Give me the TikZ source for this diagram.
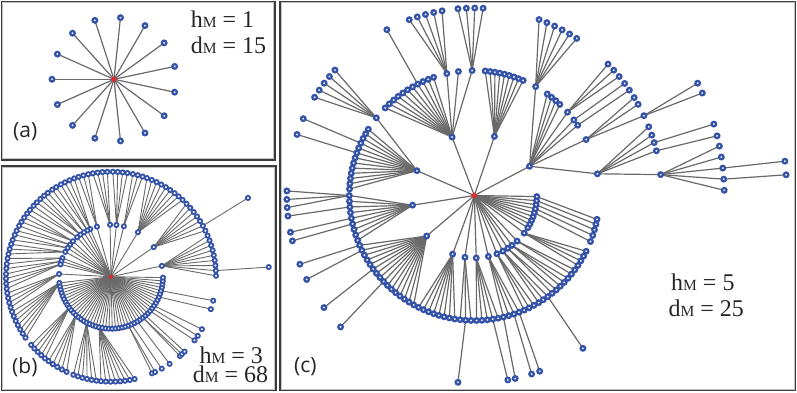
\documentclass[tikz,border=0pt]{standalone}
\usepackage{fontspec}
\setmainfont{Liberation Serif}
\newfontfamily\labfont{Open Sans}
\definecolor{nblue}{RGB}{52,82,168}
\definecolor{nred}{RGB}{232,36,40}
\definecolor{egray}{RGB}{105,105,105}
\definecolor{frm}{RGB}{60,60,60}
\definecolor{frmlight}{RGB}{195,195,195}
\tikzset{
 leafnode/.style={circle, draw=nblue, line width=2.3pt, fill=white, minimum size=4.5pt, inner sep=0pt},
 rootnode/.style={circle, draw=nred, line width=1.8pt, fill=white, minimum size=3.6pt, inner sep=0pt},
 conn/.style={draw=egray, line width=1.2pt},
 panelframe/.style={draw=frm, line width=1.5pt},
 panelshade/.style={draw=frmlight, line width=0.9pt},
 lbl/.style={inner sep=0pt, font=\fontsize{24}{24}\selectfont, text=black!85},
 plab/.style={inner sep=0pt, font=\labfont\fontsize{21}{21}\selectfont, text=black!85},
}
\newif\ifnodepass
\newcommand\treeroot[1]{%
  \ifnodepass\node[rootnode] (#1) at (\cx,\cy) {};%
  \else\coordinate (#1) at (\cx,\cy);\fi}
% node #1 with parent #2 at radius #3, angle #4 around (\cx,\cy)
\newcommand\treenode[4]{%
  \ifnodepass\node[leafnode] (#1) at ({\cx+(#3)*cos(#4)},{\cy-(#3)*sin(#4)}) {};%
  \else\coordinate (#1) at ({\cx+(#3)*cos(#4)},{\cy-(#3)*sin(#4)});%
  \draw[conn] (#2) -- (#1);\fi}
% #5 children of #1 at radius #2, angles from #3 to #4
\newcommand\treefan[5]{%
  \foreach \k in {1,...,#5}{%
    \pgfmathsetmacro\angt{#3+(#4-#3)*(\k-1)/max(#5-1,1)}%
    \treenode{#1-\k}{#1}{#2}{\angt}}}
\newcommand\hdm[2]{#1{\fontsize{15.5}{15.5}\selectfont M} = #2}
% two stacked lines, first baseline at the node's base
\newcommand\twolines[3]{\vtop{\baselineskip=#1\hbox{#2}\hbox{#3}}}

\newcommand\panelA{%
\def\cx{114}\def\cy{79.3}%
\treeroot{ra}%
\treefan{ra}{62}{180}{-156}{15}}

\newcommand\panelB{%
\begin{scope}[leafnode/.style={circle, draw=nblue, line width=1.8pt, fill=white, minimum size=4.2pt, inner sep=0pt},
  conn/.style={draw=egray, line width=0.9pt},
  rootnode/.style={circle, draw=nred, line width=1.4pt, fill=white, minimum size=2.8pt, inner sep=0pt}]
\def\cx{111}\def\cy{276.7}%
\treeroot{rb}
\treenode{bt1}{rb}{52}{12}
\treenode{bt2}{rb}{52}{34.7}
\treenode{bt3}{rb}{52}{58.8}
\treenode{bt4}{rb}{52}{75.7}
\treenode{bt5}{rb}{52}{84}
\treenode{bt6}{rb}{52}{91}
\treenode{bl1}{rb}{52}{105.7}
\treenode{bl2}{rb}{52}{113.5}
\treenode{bl3}{rb}{52}{117}
\treenode{bl4}{rb}{52}{121.3}
\treenode{bl5}{rb}{52}{126}
\treenode{bl6}{rb}{52}{130.6}
\treenode{bl7}{rb}{52}{137}
\treenode{bl8}{rb}{52}{142}
\treenode{bl9}{rb}{52}{146.4}
\treenode{bl10}{rb}{52}{151.5}
\treenode{bl11}{rb}{52}{159}
\treenode{bl12}{rb}{52}{162.7}
\treenode{bl13}{rb}{52}{166.3}
\treenode{bl14}{rb}{52}{177}
\treenode{bl15}{rb}{52}{186.9}
\treefan{rb}{52}{191}{359}{47}
\treefan{bt1}{105}{0.5}{23}{9}
\treefan{bt2}{105}{26}{44}{7}
\treefan{bt3}{105}{47}{70}{9}
\treefan{bt4}{105}{72.5}{78}{3}
\treefan{bt5}{105}{81}{89}{4}
\treefan{bt6}{105}{92}{100}{4}
\treefan{bl1}{105}{102.5}{108}{3}
\treefan{bl2}{105}{110.5}{116}{3}
\treefan{bl3}{105}{118.5}{121.5}{2}
\treefan{bl4}{105}{124}{127}{2}
\treefan{bl5}{105}{129.5}{135}{3}
\treefan{bl6}{105}{137.5}{140.5}{2}
\treefan{bl7}{105}{143}{148.5}{3}
\treefan{bl8}{105}{151}{154}{2}
\treefan{bl9}{105}{156.5}{159.5}{2}
\treefan{bl10}{105}{162}{167.5}{3}
\treefan{bl11}{105}{170}{173}{2}
\treefan{bl12}{105}{175.5}{178.5}{2}
\treefan{bl13}{105}{181}{186.5}{3}
\treefan{bl14}{105}{189}{197}{4}
\treefan{bl15}{105}{199.5}{215.5}{7}
\treefan{rb-8}{105}{220.5}{231}{5}
\treefan{rb-11}{105}{233.5}{245}{5}
\treefan{rb-15}{105}{249}{262}{6}
\treefan{rb-19}{105}{264.5}{283}{8}
\treenode{bs1}{rb-28}{105}{293}
\treenode{bs2}{rb-28}{105}{294.8}
\treenode{bs3}{rb-29}{105}{298.9}
\treenode{bs4}{rb-31}{105}{303.9}
\treenode{bs5}{rb-33}{105}{311}
\treenode{bs6}{rb-33}{105}{312.5}
\treenode{bs7}{rb-34}{105}{314.5}
\treenode{bs8}{rb-36}{105}{322.7}
\treenode{bs9}{rb-37}{105}{325.7}
\treenode{bs10}{rb-38}{105}{330}
\treenode{bs11}{rb-41}{105}{342}
\treenode{bs12}{rb-43}{105}{346.8}
\treenode{bx1}{bt2-2}{158}{29.9}
\treenode{bx2}{bt1-2}{158}{3.5}
\end{scope}}

\newcommand\panelC{%
\def\cx{474.3}\def\cy{195.5}%
\treeroot{rc}
\treenode{c1}{rc}{62.5}{156.6}
\treenode{c2}{rc}{62.5}{188.9}
\treenode{c3}{rc}{62.5}{220.4}
\treenode{c4}{rc}{62.5}{110.8}
\treenode{c5}{rc}{62.5}{71.2}
\treenode{c6}{rc}{62.5}{27.9}
\treenode{cb1}{rc}{62.5}{-110.3}
\treenode{cb2}{rc}{62.5}{-98.6}
\treenode{cb3}{rc}{62.5}{-88.2}
\treenode{cb4}{rc}{62.5}{-77}
\treenode{cb5}{rc}{62.5}{-68.8}
\treenode{cb6}{rc}{62.5}{-62.8}
\treenode{cb7}{rc}{62.5}{-57.7}
\treenode{cb8}{rc}{62.5}{-52.9}
\treenode{cb9}{rc}{62.5}{-46.8}
\treenode{cb10}{rc}{62.5}{-37}
\treefan{rc}{62.5}{-31}{-1}{9}
\treenode{h1b}{c1}{125}{141.6}
\treefan{c1}{125}{148}{177}{13}
\treefan{c2}{125}{180}{201}{9}
\treefan{c3}{125}{203.5}{241}{16}
\treefan{c4}{125}{135.5}{109}{11}
\treenode{c4a}{c4}{125}{102.7}
\treenode{c4b}{c4}{125}{97.3}
\treenode{c4c}{c4}{125}{91}
\treefan{c5}{125}{85}{67}{9}
\treenode{c6a}{c6}{125}{60.6}
\treefan{c6}{125}{54.3}{46.8}{4}
\treenode{c6b}{c6}{125}{41.8}
\treenode{c6c}{c6}{125}{37.2}
\treenode{c6d}{c6}{125}{34.2}
\treenode{c6e}{c6}{125}{26.6}
\treenode{c6f}{c6}{125}{10}
\treefan{cb1}{125}{243.5}{261}{8}
\treefan{cb2}{125}{263.5}{268.5}{3}
\treefan{cb3}{125}{271}{281}{5}
\treefan{cb4}{125}{283.5}{291}{4}
\treefan{cb5}{125}{293.5}{298.5}{3}
\treefan{cb6}{125}{301}{306}{3}
\treefan{cb7}{125}{308.5}{311}{2}
\treefan{cb8}{125}{313.5}{318.5}{3}
\treefan{cb9}{125}{321}{323.5}{2}
\treefan{cb10}{125}{326}{333.5}{4}
\treenode{cr1}{rc-9}{125}{-11}
\treenode{cr2}{rc-8}{125}{-13.3}
\treenode{cr3}{rc-7}{125}{-15.9}
\treenode{cr4}{rc-6}{125}{-18.6}
\treenode{cr5}{rc-5}{125}{-21.6}
\treenode{cl1}{c1-4}{187.5}{155.8}
\treenode{cl2}{c1-6}{187.5}{161}
\treefan{h1b}{187.5}{138}{148.4}{5}
\treenode{cl3}{c2-1}{187.5}{178.6}
\treenode{cl4}{c2-1}{187.5}{181.2}
\treenode{cl5}{c2-1}{187.5}{183.7}
\treenode{cl6}{c2-3}{187.5}{186.3}
\treenode{cl7}{c2-5}{187.5}{191.3}
\treenode{cl8}{c2-6}{187.5}{194}
\treenode{cl9}{c3-1}{187.5}{201.5}
\treenode{cl10}{c3-2}{187.5}{206.6}
\treenode{cl11}{c3-6}{187.5}{216.7}
\treenode{cl12}{c3-9}{187.5}{224.5}
\treenode{c4x}{c4-8}{187.5}{117.8}
\treefan{c4a}{187.5}{110.3}{99.9}{5}
\treefan{c4c}{187.5}{95}{87.3}{4}
\treefan{c6a}{187.5}{69.8}{56.9}{6}
\treefan{c6b}{187.5}{44.5}{39.4}{3}
\treenode{c6c1}{c6c}{187.5}{36.7}
\treenode{c6d1}{c6d}{187.5}{34.2}
\treenode{c6e1}{c6e}{187.5}{31.5}
\treenode{c6e2}{c6e}{187.5}{29.1}
\treenode{c6e3}{c6e}{187.5}{25.2}
\treenode{c6f1}{c6f}{187.5}{21.5}
\treenode{c6f2}{c6f}{187.5}{18.8}
\treenode{c6f3}{c6f}{187.5}{16.4}
\treenode{c6f4}{c6f}{187.5}{13.8}
\treenode{c6f5}{c6f}{187.5}{6.4}
\treenode{cf1}{cb2-2}{187.5}{265}
\treenode{cf2}{cb3-4}{187.5}{280.3}
\treenode{cf3}{cb4-1}{187.5}{282.6}
\treenode{cf4}{cb4-3}{187.5}{287.8}
\treenode{cf5}{cb4-4}{187.5}{290.4}
\treenode{cf6}{cb6-3}{187.5}{305.4}
\treenode{c6e3a}{c6e3}{250}{26.7}
\treenode{c6e3b}{c6e3}{250}{24.2}
\treenode{c6f3a}{c6f3}{250}{16.6}
\treenode{c6f4a}{c6f4}{250}{13.8}
\treefan{c6f5}{250}{11.4}{1.2}{5}
\treenode{c5a}{c6f5-3}{312.5}{6.3}
\treenode{c5b}{c6f5-4}{312.5}{3.8}}

\begin{document}
\begin{tikzpicture}[x=1pt,y=-1pt]
\useasboundingbox (0,0) rectangle (797,392);
\fill[white] (0,0) rectangle (797,392);
% pass 1: connectors, pass 2: nodes on top
\global\nodepassfalse
\panelA\panelB\panelC
\global\nodepasstrue
\panelA\panelB\panelC

\node[lbl, anchor=base west] (la) at (190.7,27.3)
  {\twolines{26pt}{\hdm{h}{1}}{\hdm{d}{15}}};
\node[plab, anchor=base west] (pa) at (13,137.5) {(a)};
\node[lbl, anchor=base west] (lb) at (192.7,363.3)
  {\twolines{19.4pt}{\hspace{6.6pt}\hdm{h}{3}}{\hdm{d}{68}}};
\node[plab, anchor=base west] (pb) at (12,373.5) {(b)};
\node[lbl, anchor=base west] (lc) at (668.3,290)
  {\twolines{26.7pt}{\hspace{2.7pt}\hdm{h}{5}}{\hdm{d}{25}}};
\node[plab, anchor=base west] (pc) at (294,372.7) {(c)};

% frames
\draw[panelshade] (2.8,2.8) rectangle (273.5,158.5);
\draw[panelshade] (2.8,167.2) rectangle (274.5,389);
\draw[panelshade] (281.2,2.8) rectangle (794,389);
\draw[panelframe] (1.5,1.5) rectangle (275,160);
\draw[panelframe] (1.5,165.8) rectangle (276,390.5);
\draw[panelframe] (279.8,1.5) rectangle (795.5,390.5);
\end{tikzpicture}
\end{document}
